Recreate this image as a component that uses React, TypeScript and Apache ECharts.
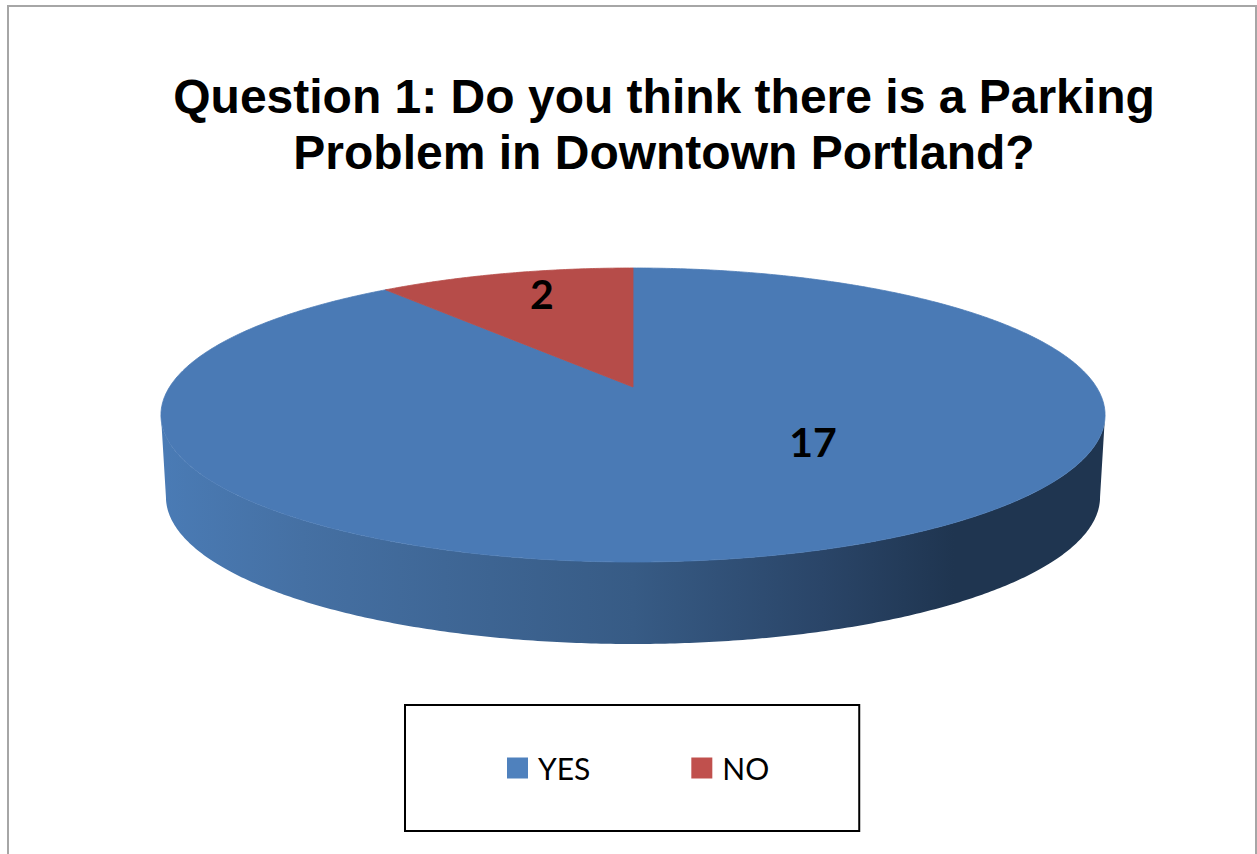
import React, { useEffect, useRef } from "react";
import * as echarts from "echarts";

const categories = ["YES", "NO"];
const values = [17, 2];
const titleText = "Question 1: Do you think there is a Parking\nProblem in Downtown Portland?";

const topColors = ["#4a7ab5", "#b64c49"];
const legendColors = ["#4f81bd", "#c0504d"];
const labelPositions = [[813, 441], [542, 293]];

// Perspective view of the disc: top face, and bottom face of the wall.
const CX = 633;
const K = 0.1905;
const TOP = { a: 463.4, b: 141.67, y0: 387 };
const BOTTOM = { a: 458.5, b: 141.67, y0: 469 };

const total = values.reduce((s, v) => s + v, 0);

function project(face: { a: number; b: number; y0: number }, phi: number, r = 1) {
  const X = Math.sin(phi) * r;
  const Y = -Math.cos(phi) * r;
  const d = 1 - K * Y;
  return [CX + (face.a * X) / d, face.y0 + (face.b * Y) / d];
}

function arc(face: { a: number; b: number; y0: number }, from: number, to: number) {
  const n = Math.max(2, Math.ceil(Math.abs(to - from) / (Math.PI / 360)));
  const pts: number[][] = [];
  for (let i = 0; i <= n; i++) pts.push(project(face, from + ((to - from) * i) / n));
  return pts;
}

const WALL_FROM = Math.acos(-K);
const WALL_TO = 2 * Math.PI - WALL_FROM;

const wallGradient = new echarts.graphic.LinearGradient(0, 0, 1, 0, [
  { offset: 0, color: "#4a7bb5" },
  { offset: 0.15, color: "#4570a3" },
  { offset: 0.5, color: "#375b85" },
  { offset: 0.7, color: "#2a4568" },
  { offset: 0.84, color: "#1f3550" },
  { offset: 1, color: "#1f3550" },
]);

function makeRenderItem(index: number) {
  return (_params: any, api: any) => {
    const before = values.slice(0, index).reduce((s, v) => s + v, 0);
    const start = (before / total) * 2 * Math.PI;
    const end = start + (api.value(0) / total) * 2 * Math.PI;
    const children: any[] = [];
    const wFrom = Math.max(start, WALL_FROM);
    const wTo = Math.min(end, WALL_TO);
    if (wTo > wFrom) {
      children.push({
        type: "polygon",
        shape: { points: [...arc(TOP, wFrom, wTo), ...arc(BOTTOM, wTo, wFrom)] },
        style: { fill: wallGradient },
      });
    }
    children.push({
      type: "polygon",
      shape: { points: [[CX, TOP.y0], ...arc(TOP, start, end)] },
      style: { fill: topColors[index], stroke: topColors[index], lineWidth: 0.8 },
    });
    children.push({
      type: "text",
      style: {
        x: labelPositions[index][0],
        y: labelPositions[index][1],
        text: String(api.value(0)),
        fill: "#000",
        font: "bold 41px Lato",
        align: "center",
        verticalAlign: "middle",
      },
    });
    return { type: "group", children };
  };
}

export default function App() {
  const ref = useRef<HTMLDivElement>(null);
  useEffect(() => {
    document.body.style.margin = "0";
    const chart = echarts.init(ref.current!, null, { renderer: "svg" });
    chart.setOption({
      animation: false,
      backgroundColor: "#ffffff",
      title: {
        text: titleText,
        left: 659,
        top: 63,
        textAlign: "center",
        textStyle: {
          fontFamily: "Liberation Sans",
          fontWeight: "bold",
          fontSize: 48,
          lineHeight: 56,
          color: "#000",
        },
      },
      legend: {
        data: categories,
        left: 405,
        top: 705,
        orient: "horizontal",
        icon: "rect",
        itemWidth: 21,
        itemHeight: 21,
        itemGap: 101,
        padding: [48, 90, 48, 102],
        borderColor: "#000",
        borderWidth: 2,
        backgroundColor: "#fff",
        textStyle: { fontFamily: "Lato", fontSize: 30, color: "#000", padding: [0, 0, 0, 5] },
      },
      graphic: [
        {
          type: "rect",
          z: -1,
          shape: { x: 8, y: 6, width: 1248, height: 900 },
          style: { fill: "#fff", stroke: "#a6a6a6", lineWidth: 2 },
        },
      ],
      series: categories.map((name, i) => ({
        type: "custom",
        name,
        coordinateSystem: "none",
        data: [[values[i]]],
        itemStyle: { color: legendColors[i] },
        renderItem: makeRenderItem(i),
        silent: true,
      })),
    });
    return () => chart.dispose();
  }, []);
  return <div ref={ref} style={{ position: "absolute", left: 0, top: 0, width: 1257, height: 854, overflow: "hidden" }} />;
}
